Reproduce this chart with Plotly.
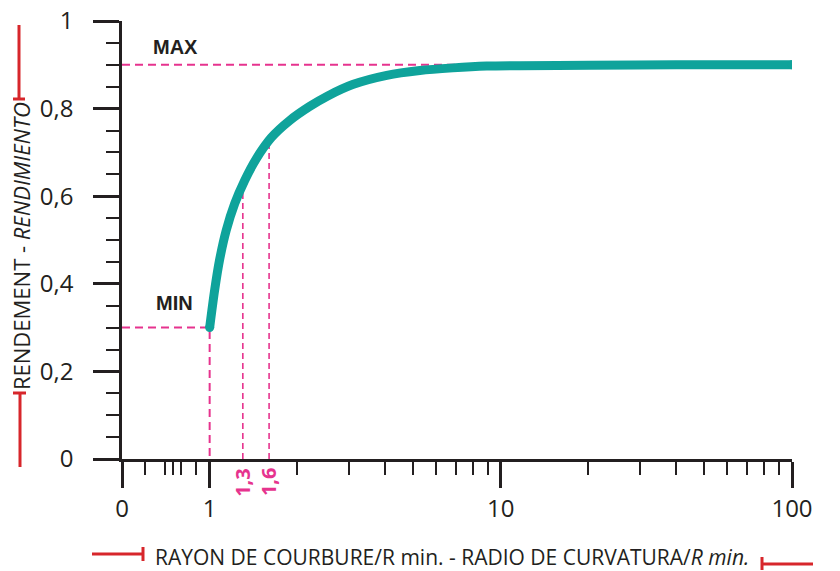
import math
import plotly.graph_objects as go

# ---- data ----
curve_x = [1.0, 1.040, 1.082, 1.140, 1.219, 1.319, 1.447, 1.629, 1.884, 2.206, 2.544, 3.098, 4.057,
           5.270, 6.838, 8.945, 11.6, 20.0, 40.0, 100.0]
curve_y = [0.300, 0.385, 0.455, 0.522, 0.583, 0.636, 0.686, 0.734, 0.773, 0.805, 0.829, 0.855, 0.876,
           0.887, 0.893, 0.897, 0.898, 0.899, 0.900, 0.900]

x_major_vals = [0.5, 1, 10, 100]
x_major_text = ["0", "1", "10", "100"]
x_minor_vals = [0.6, 0.7, 0.75, 0.8, 0.9, 2, 3, 4, 5, 6, 7, 8, 9, 20, 30, 40, 50, 60, 70, 80, 90]

y_major_vals = [0, 0.2, 0.4, 0.6, 0.8, 1.0]
y_major_text = ["0", "0,2", "0,4", "0,6", "0,8", "1"]
y_minor_vals = [0.05, 0.1, 0.15, 0.25, 0.3, 0.35, 0.45, 0.5, 0.55, 0.65, 0.7, 0.75, 0.85, 0.9, 0.95]

max_y = 0.9
min_y = 0.3
min_x = 1.0
guide_x = [1.3, 1.6]
guide_y = [0.622, 0.735]
guide_text = ["1,3", "1,6"]

TEAL = "#0FA39B"
PINK = "#E6338E"
RED = "#D7262B"
INK = "#231F20"

# page geometry (body margin removed via post_script)
W, H = 840, 571
P_LEFT, P_RIGHT, P_TOP, P_BOTTOM = 122, 792, 21, 459
L, T, R, B = P_LEFT, P_TOP, W - P_RIGHT, H - P_BOTTOM
PW, PH = P_RIGHT - P_LEFT, P_BOTTOM - P_TOP


def px_x(px):
    return (px - P_LEFT) / PW


def px_y(py):
    return (P_BOTTOM - py) / PH


fig = go.Figure()

# pink dashed guides
fig.add_trace(go.Scatter(x=[0.5, 10], y=[max_y, max_y], mode="lines",
                         line=dict(color=PINK, width=2, dash="8px,5px"), hoverinfo="skip"))
fig.add_trace(go.Scatter(x=[0.5, min_x, min_x], y=[min_y, min_y, 0], mode="lines",
                         line=dict(color=PINK, width=2, dash="8px,5px"), hoverinfo="skip"))
for gx, gy in zip(guide_x, guide_y):
    fig.add_trace(go.Scatter(x=[gx, gx], y=[0, gy], mode="lines",
                             line=dict(color=PINK, width=1.6, dash="6px,4px"), hoverinfo="skip"))

# main curve
fig.add_trace(go.Scatter(x=curve_x, y=curve_y, mode="lines",
                         line=dict(color=TEAL, width=9, shape="spline", smoothing=0.8)))
fig.add_trace(go.Scatter(x=[curve_x[0], curve_x[-1]], y=[curve_y[0], curve_y[-1]], mode="markers",
                         marker=dict(color=TEAL, size=9, line=dict(width=0))))

C = dict(xanchor="center", yanchor="middle", showarrow=False)
annotations = [
    dict(x=math.log10(0.765), y=px_y(47), xref="x", yref="paper", text="<b>MAX</b>",
         font=dict(family="Liberation Sans", size=20, color=INK), **C),
    dict(x=math.log10(0.76), y=px_y(303), xref="x", yref="paper", text="<b>MIN</b>",
         font=dict(family="Liberation Sans", size=20, color=INK), **C),
]
for gx, gt in zip(guide_x, guide_text):
    annotations.append(dict(x=math.log10(gx), y=px_y(482), xref="x", yref="paper", text="<b>" + gt + "</b>",
                            textangle=-90,
                            font=dict(family="Open Sans", size=20, color=PINK), **C))

annotations.append(dict(x=px_x(21), y=px_y(246), xref="paper", yref="paper",
                        text="RENDEMENT - <i>RENDIMIENTO</i>", textangle=-90,
                        font=dict(family="Open Sans", size=22, color=INK), **C))
annotations.append(dict(x=px_x(452), y=px_y(557), xref="paper", yref="paper",
                        text="RAYON DE COURBURE/R min. - RADIO DE CURVATURA/<i>R min.</i>",
                        font=dict(family="Open Sans", size=21, color=INK), **C))

shapes = []


def seg(x0, y0, x1, y1, w=3):
    shapes.append(dict(type="line", xref="paper", yref="paper",
                       x0=px_x(x0), y0=px_y(y0), x1=px_x(x1), y1=px_y(y1),
                       line=dict(color=RED, width=w)))


# y-title brackets
seg(19, 25, 19, 99)
seg(13, 99, 25, 99)
seg(20, 393, 20, 467)
seg(13, 393, 26, 393)
# x-title brackets
seg(92, 554, 143, 554)
seg(143, 547, 143, 561)
seg(762, 564, 813, 564)
seg(762, 557, 762, 570)

fig.update_layout(
    width=W, height=H, margin=dict(l=L, r=R, t=T, b=B, autoexpand=False),
    paper_bgcolor="white", plot_bgcolor="white", showlegend=False,
    annotations=annotations, shapes=shapes,
    font=dict(family="Open Sans", color=INK),
)
fig.update_xaxes(type="log", range=[math.log10(0.5), 2], showgrid=False, zeroline=False,
                 automargin=False, ticklabeloverflow="allow",
                 showline=True, linecolor=INK, linewidth=2.5,
                 tickmode="array", tickvals=x_major_vals, ticktext=x_major_text,
                 ticks="outside", ticklen=26, tickwidth=3, tickcolor=INK,
                 ticklabelstandoff=0,
                 tickfont=dict(family="Open Sans", size=24, color=INK),
                 minor=dict(tickmode="array", tickvals=x_minor_vals, ticks="outside",
                            ticklen=13, tickwidth=2, tickcolor=INK, showgrid=False))
fig.update_yaxes(range=[0, 1], showgrid=False, zeroline=False,
                 automargin=False, ticklabeloverflow="allow",
                 showline=True, linecolor=INK, linewidth=2.5,
                 tickmode="array", tickvals=y_major_vals, ticktext=y_major_text,
                 ticks="outside", ticklen=26, tickwidth=3, tickcolor=INK,
                 ticklabelstandoff=15,
                 tickfont=dict(family="Open Sans", size=24, color=INK),
                 minor=dict(tickmode="array", tickvals=y_minor_vals, ticks="outside",
                            ticklen=13, tickwidth=2, tickcolor=INK, showgrid=False))

fig.write_html("out.html", config={"displayModeBar": False},
               post_script="document.body.style.margin='0px';")
